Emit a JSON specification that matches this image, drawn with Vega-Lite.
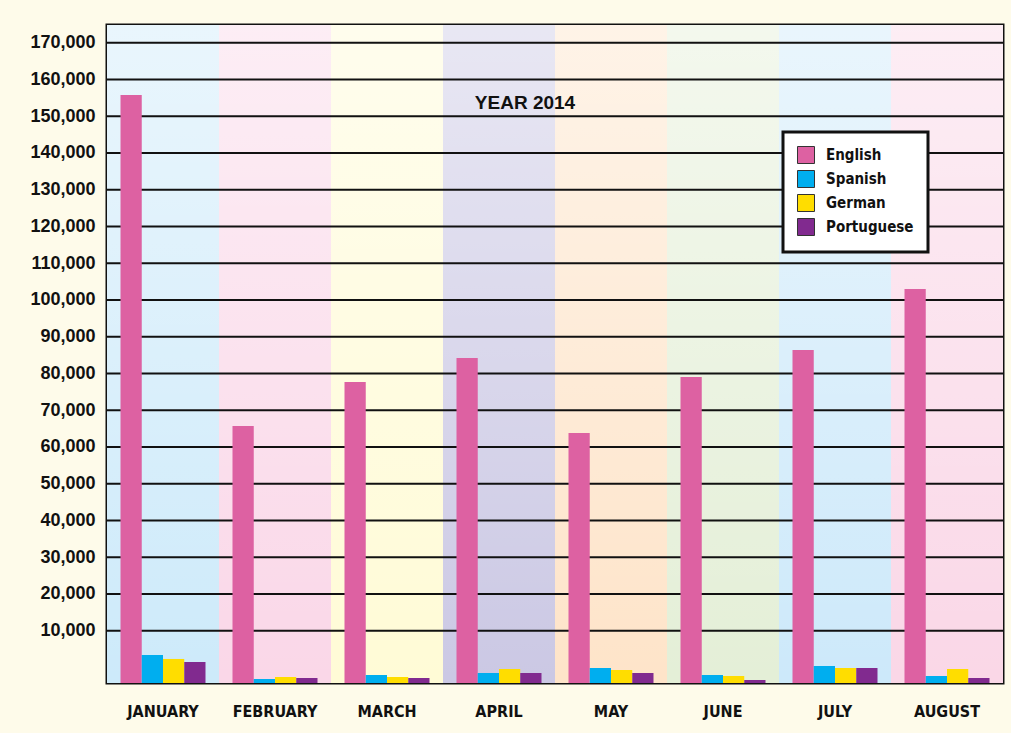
{
  "$schema": "https://vega.github.io/schema/vega-lite/v6.json",
  "width": 896,
  "height": 658,
  "autosize": {"type": "none"},
  "padding": {"left": 107, "top": 25, "right": 8, "bottom": 50},
  "background": "#fefbea",
  "title": {
    "text": "YEAR 2014",
    "anchor": "middle",
    "frame": "group",
    "font": "Liberation Sans",
    "fontSize": 19,
    "fontWeight": 900,
    "color": "#111111",
    "baseline": "alphabetic",
    "offset": 0,
    "dx": -30,
    "dy": 103
  },
  "datasets": {
    "months": [
      {"month": "JANUARY"}, {"month": "FEBRUARY"}, {"month": "MARCH"}, {"month": "APRIL"},
      {"month": "MAY"}, {"month": "JUNE"}, {"month": "JULY"}, {"month": "AUGUST"}
    ],
    "grid": [
      {"v": 10000}, {"v": 20000}, {"v": 30000}, {"v": 40000}, {"v": 50000}, {"v": 60000},
      {"v": 70000}, {"v": 80000}, {"v": 90000}, {"v": 100000}, {"v": 110000}, {"v": 120000},
      {"v": 130000}, {"v": 140000}, {"v": 150000}, {"v": 160000}, {"v": 170000}
    ],
    "counts": [
      {"month": "JANUARY", "lang": "English", "value": 155750},
      {"month": "JANUARY", "lang": "Spanish", "value": 3370},
      {"month": "JANUARY", "lang": "German", "value": 2290},
      {"month": "JANUARY", "lang": "Portuguese", "value": 1470},
      {"month": "FEBRUARY", "lang": "English", "value": 65700},
      {"month": "FEBRUARY", "lang": "Spanish", "value": -3160},
      {"month": "FEBRUARY", "lang": "German", "value": -2610},
      {"month": "FEBRUARY", "lang": "Portuguese", "value": -2890},
      {"month": "MARCH", "lang": "English", "value": 77660},
      {"month": "MARCH", "lang": "Spanish", "value": -2070},
      {"month": "MARCH", "lang": "German", "value": -2610},
      {"month": "MARCH", "lang": "Portuguese", "value": -2890},
      {"month": "APRIL", "lang": "English", "value": 84190},
      {"month": "APRIL", "lang": "Spanish", "value": -1530},
      {"month": "APRIL", "lang": "German", "value": -440},
      {"month": "APRIL", "lang": "Portuguese", "value": -1530},
      {"month": "MAY", "lang": "English", "value": 63780},
      {"month": "MAY", "lang": "Spanish", "value": -160},
      {"month": "MAY", "lang": "German", "value": -710},
      {"month": "MAY", "lang": "Portuguese", "value": -1530},
      {"month": "JUNE", "lang": "English", "value": 79020},
      {"month": "JUNE", "lang": "Spanish", "value": -2070},
      {"month": "JUNE", "lang": "German", "value": -2340},
      {"month": "JUNE", "lang": "Portuguese", "value": -3430},
      {"month": "JULY", "lang": "English", "value": 86370},
      {"month": "JULY", "lang": "Spanish", "value": 380},
      {"month": "JULY", "lang": "German", "value": -160},
      {"month": "JULY", "lang": "Portuguese", "value": -160},
      {"month": "AUGUST", "lang": "English", "value": 102970},
      {"month": "AUGUST", "lang": "Spanish", "value": -2340},
      {"month": "AUGUST", "lang": "German", "value": -440},
      {"month": "AUGUST", "lang": "Portuguese", "value": -2890}
    ]
  },
  "layer": [
    {
      "data": {"name": "months"},
      "mark": {"type": "bar", "opacity": 1},
      "encoding": {
        "x": {"field": "month", "type": "nominal", "sort": ["JANUARY", "FEBRUARY", "MARCH", "APRIL", "MAY", "JUNE", "JULY", "AUGUST"]},
        "y": {"datum": 174800, "type": "quantitative"},
        "y2": {"datum": -4250},
        "fill": {
          "field": "month", "type": "nominal", "legend": null,
          "scale": {
            "domain": ["JANUARY", "FEBRUARY", "MARCH", "APRIL", "MAY", "JUNE", "JULY", "AUGUST"],
            "range": ["#cdeafa", "#fad7e8", "#fffbd6", "#cbc8e4", "#fee4c9", "#e4efd7", "#cde9fa", "#fad7e7"]
          }
        }
      }
    },
    {
      "data": {"name": "months"},
      "mark": {
        "type": "bar",
        "color": {
          "gradient": "linear", "x1": 0, "y1": 0, "x2": 0, "y2": 1,
          "stops": [
            {"offset": 0, "color": "rgba(255,255,255,0.57)"},
            {"offset": 1, "color": "rgba(255,255,255,0)"}
          ]
        }
      },
      "encoding": {
        "x": {"field": "month", "type": "nominal", "sort": ["JANUARY", "FEBRUARY", "MARCH", "APRIL", "MAY", "JUNE", "JULY", "AUGUST"]},
        "y": {"datum": 174800, "type": "quantitative"},
        "y2": {"datum": -4250}
      }
    },
    {
      "data": {"name": "grid"},
      "mark": {"type": "rule", "color": "#111111", "strokeWidth": 2},
      "encoding": {
        "y": {"field": "v", "type": "quantitative"}
      }
    },
    {
      "data": {"name": "counts"},
      "mark": {"type": "bar"},
      "encoding": {
        "x": {
          "field": "month", "type": "nominal",
          "sort": ["JANUARY", "FEBRUARY", "MARCH", "APRIL", "MAY", "JUNE", "JULY", "AUGUST"],
          "scale": {"paddingInner": 0, "paddingOuter": 0},
          "title": null,
          "axis": {
            "labelAngle": 0, "labelAlign": "center", "labelBaseline": "top",
            "labelFont": "DejaVu Sans Condensed, DejaVu Sans, sans-serif", "labelFontSize": 16,
            "labelFontWeight": "bold", "labelColor": "#111111", "labelPadding": 20,
            "ticks": false, "tickSize": 0, "domain": false, "grid": false
          }
        },
        "xOffset": {
          "field": "lang", "type": "nominal",
          "sort": ["English", "Spanish", "German", "Portuguese"],
          "scale": {"paddingInner": 0, "paddingOuter": 0.635}
        },
        "y": {
          "field": "value", "type": "quantitative",
          "scale": {"domain": [-4250, 174800], "nice": false, "zero": false},
          "title": null,
          "axis": {
            "values": [10000, 20000, 30000, 40000, 50000, 60000, 70000, 80000, 90000, 100000, 110000, 120000, 130000, 140000, 150000, 160000, 170000],
            "format": ",d", "labelFont": "Liberation Sans", "labelFontSize": 18,
            "labelFontWeight": "bold", "labelColor": "#111111", "labelPadding": 12,
            "ticks": false, "tickSize": 0, "domain": false, "grid": false
          }
        },
        "y2": {"datum": -4250},
        "color": {
          "field": "lang", "type": "nominal",
          "sort": ["English", "Spanish", "German", "Portuguese"],
          "scale": {
            "domain": ["English", "Spanish", "German", "Portuguese"],
            "range": ["#dd61a2", "#00aeef", "#ffdd00", "#812a8f"]
          },
          "legend": {
            "title": null, "orient": "none", "legendX": 676, "legendY": 107,
            "fillColor": "#ffffff", "strokeColor": "#111111",
            "padding": 14, "symbolType": "square", "symbolSize": 289,
            "symbolStrokeColor": "#333333", "symbolStrokeWidth": 1, "symbolOpacity": 1,
            "labelFont": "DejaVu Sans Condensed, DejaVu Sans, sans-serif", "labelFontSize": 15, "labelFontWeight": "bold",
            "labelColor": "#111111", "labelOffset": 11, "rowPadding": 2
          }
        }
      }
    }
  ],
  "config": {
    "view": {"stroke": "#111111", "strokeWidth": 3},
    "axis": {"grid": false},
    "legend": {"strokeWidth": 3}
  }
}
